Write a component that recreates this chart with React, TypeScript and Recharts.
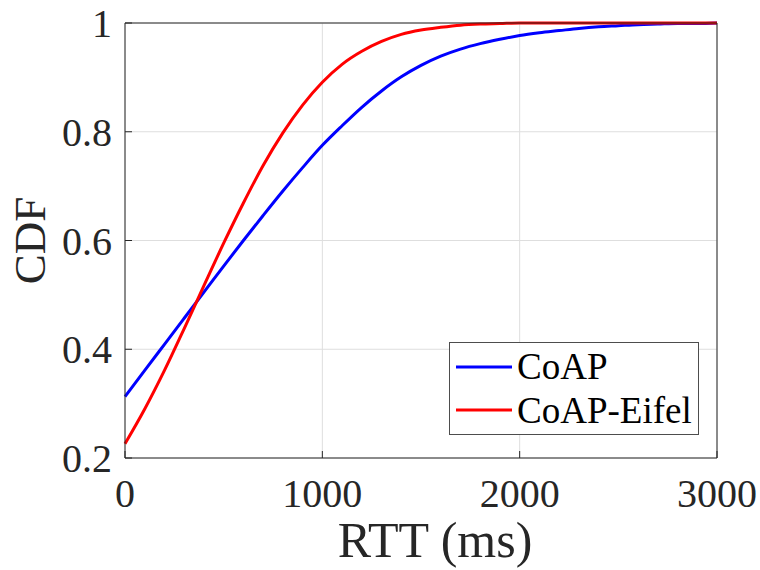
import { LineChart, Line, XAxis, YAxis, CartesianGrid, Label } from "recharts";

const RTT_MS = [
  0, 100, 200, 300, 400, 500, 600, 700, 800, 900, 1000, 1100, 1200, 1300, 1400, 1500,
  1600, 1700, 1800, 1900, 2000, 2100, 2200, 2300, 2400, 2500, 2600, 2700, 2800, 2900, 3000,
];
const COAP = [
  0.313, 0.361, 0.409, 0.457, 0.505, 0.553, 0.6, 0.646, 0.691, 0.734, 0.775, 0.811, 0.845,
  0.875, 0.901, 0.922, 0.939, 0.952, 0.962, 0.97, 0.977, 0.982, 0.986, 0.99, 0.993, 0.995,
  0.997, 0.998, 0.999, 0.999, 1.0,
];
const COAP_EIFEL = [
  0.226, 0.29, 0.361, 0.438, 0.517, 0.595, 0.669, 0.738, 0.798, 0.849, 0.891, 0.924, 0.948,
  0.966, 0.979, 0.987, 0.992, 0.996, 0.998, 0.999, 1.0, 1.0, 1.0, 1.0, 1.0, 1.0, 1.0, 1.0,
  1.0, 1.0, 1.0,
];
const X_TICKS = [0, 1000, 2000, 3000];
const Y_TICKS = [0.2, 0.4, 0.6, 0.8, 1];

const SERIES = [
  { key: "coap", name: "CoAP", color: "#0000ff" },
  { key: "eifel", name: "CoAP-Eifel", color: "#ff0000" },
];

const FONT = '"Liberation Serif", "Times New Roman", serif';
const AXIS = "#262626";

const data = RTT_MS.map((t, i) => ({ t, coap: COAP[i], eifel: COAP_EIFEL[i] }));

// legend sits inside the plot, lower right, like matlab's "southeast"
function LegendBox() {
  return (
    <div
      style={{
        position: "absolute",
        left: 449,
        top: 342,
        width: 248,
        height: 91,
        border: "1px solid #4d4d4d",
        background: "#fff",
        fontFamily: FONT,
        fontSize: 37,
        color: "#000",
      }}
    >
      {SERIES.map((s, i) => (
        <div
          key={s.key}
          style={{ display: "flex", alignItems: "center", height: 43.5, marginTop: i === 0 ? 2 : 0 }}
        >
          <svg width={62} height={10} style={{ flex: "none" }}>
            <line x1={6} x2={62} y1={5} y2={5} stroke={s.color} strokeWidth={3} />
          </svg>
          <span style={{ marginLeft: 5, lineHeight: 1 }}>{s.name}</span>
        </div>
      ))}
    </div>
  );
}

export default function App() {
  return (
    <div style={{ position: "absolute", left: 0, top: 0, width: 760, height: 570, background: "#fff" }}>
      <LineChart width={760} height={570} data={data} margin={{ top: 22, right: 42, bottom: 0, left: 0 }}>
        <CartesianGrid stroke="#dedede" strokeWidth={1} />
        <XAxis
          dataKey="t"
          type="number"
          domain={[0, 3000]}
          ticks={X_TICKS}
          height={112}
          stroke={AXIS}
          tickSize={-7}
          tickMargin={28}
          tick={{ fill: AXIS, fontSize: 40, fontFamily: FONT }}
          interval={0}
        >
          <Label
            content={(props: any) => {
              const vb = props.viewBox;
              return (
                <text
                  x={vb.x + vb.width / 2 + 14}
                  y={vb.y + vb.height - 13}
                  textAnchor="middle"
                  fill={AXIS}
                  fontSize={50}
                  fontFamily={FONT}
                >
                  RTT (ms)
                </text>
              );
            }}
          />
        </XAxis>
        <XAxis
          xAxisId="top"
          orientation="top"
          dataKey="t"
          type="number"
          domain={[0, 3000]}
          ticks={X_TICKS}
          height={1}
          stroke={AXIS}
          tickSize={-7}
          tick={false}
        />
        <YAxis
          type="number"
          domain={[0.2, 1]}
          ticks={Y_TICKS}
          width={125}
          stroke={AXIS}
          tickSize={-7}
          tickMargin={20}
          tick={{ fill: AXIS, fontSize: 40, fontFamily: FONT }}
          interval={0}
        >
          <Label
            content={(props: any) => {
              const vb = props.viewBox;
              const cx = 45;
              const cy = vb.y + vb.height / 2;
              return (
                <text
                  x={cx}
                  y={cy}
                  transform={`rotate(-90 ${cx} ${cy})`}
                  textAnchor="middle"
                  fill={AXIS}
                  fontSize={45}
                  fontFamily={FONT}
                >
                  CDF
                </text>
              );
            }}
          />
        </YAxis>
        <YAxis
          yAxisId="right"
          orientation="right"
          type="number"
          domain={[0.2, 1]}
          ticks={Y_TICKS}
          width={1}
          stroke={AXIS}
          tickSize={-7}
          tick={false}
        />
        {SERIES.map((s) => (
          <Line
            key={s.key}
            type="monotone"
            dataKey={s.key}
            name={s.name}
            stroke={s.color}
            strokeWidth={3}
            dot={false}
            activeDot={false}
            isAnimationActive={false}
          />
        ))}
      </LineChart>
      <LegendBox />
    </div>
  );
}
